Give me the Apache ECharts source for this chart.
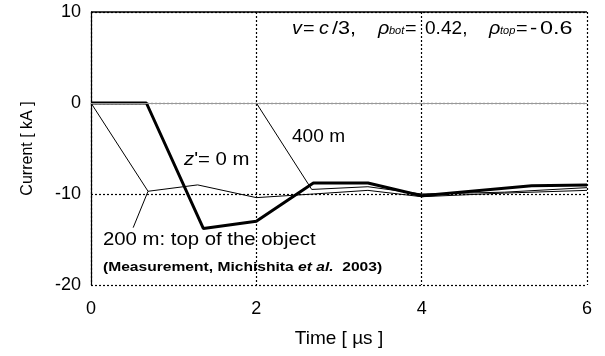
<!DOCTYPE html>
<html>
<head>
<meta charset="utf-8">
<script src="https://cdn.jsdelivr.net/npm/echarts@6/dist/echarts.min.js"></script>
<style>
  html, body { margin: 0; padding: 0; background: #fff; }
  #chart { width: 605px; height: 356px; }
</style>
</head>
<body>
<div id="chart"></div>
<script>
// Time axis ticks [µs] and current axis ticks [kA]
var timeTicks = [0, 2, 4, 6];
var currentTicks = [-20, -10, 0, 10];

// Current waveforms: [time µs, current kA]
var z0m = [[0, 0], [0.67, 0], [1.36, -13.8], [2.0, -13.0], [2.69, -8.8], [3.35, -8.8], [4.0, -10.2], [5.33, -9.1], [6.0, -9.0]];
var z200m = [[0, 0], [0.69, -9.7], [1.29, -9.0], [2.0, -10.4], [2.69, -10.0], [3.35, -9.6], [4.0, -10.3], [5.0, -9.9], [6.0, -9.6]];
var z400m = [[2.0, 0], [2.67, -9.5], [3.35, -9.2], [4.0, -10.0], [5.0, -9.8], [6.0, -9.3]];

// Pointer from the 200 m label to its curve
var pointer200 = [[0.51, -13.7], [0.69, -9.7]];

var FONT = '"Liberation Sans", Arial, sans-serif';

// Small helper for a piece of annotation text, vertically centred on y
function txt(x, y, text, size, opts) {
  opts = opts || {};
  return {
    type: 'text', x: x, y: y, z: 10, scaleX: opts.scaleX || 1,
    style: {
      text: text,
      font: (opts.italic ? 'italic ' : '') + (opts.bold ? 'bold ' : '') + size + 'px ' + FONT,
      fill: '#000',
      verticalAlign: 'middle',
      rich: opts.rich
    }
  };
}

var chart = echarts.init(document.getElementById('chart'));

chart.setOption({
  animation: false,
  grid: { left: 91, right: 18, top: 12, bottom: 71 },
  xAxis: {
    type: 'value',
    min: timeTicks[0],
    max: timeTicks[timeTicks.length - 1],
    interval: 2,
    name: 'Time [ \u00b5s ]',
    nameLocation: 'middle',
    nameGap: 44,
    nameTextStyle: { fontFamily: FONT, fontSize: 19, color: '#000' },
    axisLine: { show: false },
    axisTick: { show: false },
    axisLabel: { fontFamily: FONT, fontSize: 18, color: '#000', margin: 15 },
    splitLine: { show: true, lineStyle: { color: '#000', type: [2, 2], width: 1.2 } }
  },
  yAxis: {
    type: 'value',
    min: currentTicks[0],
    max: currentTicks[currentTicks.length - 1],
    interval: 10,
    name: 'Current [ kA ]',
    nameLocation: 'middle',
    nameGap: 55,
    nameRotate: 90,
    nameTextStyle: { fontFamily: FONT, fontSize: 16, color: '#000' },
    axisLine: { show: true, onZero: false, lineStyle: { color: '#000', width: 1.2 } },
    axisTick: { show: false },
    axisLabel: { fontFamily: FONT, fontSize: 18, color: '#000', margin: 10 },
    splitLine: { show: true, lineStyle: { color: '#000', type: [2, 2], width: 1.2 } }
  },
  series: [
    {
      name: '400 m',
      type: 'line',
      data: z400m,
      symbol: 'none',
      lineStyle: { color: '#000', width: 1 },
      z: 3
    },
    {
      name: '200 m',
      type: 'line',
      data: z200m,
      symbol: 'none',
      lineStyle: { color: '#000', width: 1 },
      z: 3,
      markLine: {
        silent: true,
        symbol: 'none',
        label: { show: false },
        data: [
          [{ coord: [timeTicks[0], 0], lineStyle: { color: '#999', width: 1.2, type: 'solid' } },
           { coord: [timeTicks[timeTicks.length - 1], 0] }],
          [{ coord: [timeTicks[0], currentTicks[currentTicks.length - 1]], lineStyle: { color: '#000', width: 1.5, type: 'solid' } },
           { coord: [timeTicks[timeTicks.length - 1], currentTicks[currentTicks.length - 1]] }],
          [{ coord: pointer200[0], lineStyle: { color: '#000', width: 1, type: 'solid' } },
           { coord: pointer200[1] }]
        ]
      }
    },
    {
      name: "z'= 0 m",
      type: 'line',
      data: z0m,
      symbol: 'none',
      lineStyle: { color: '#000', width: 3 },
      z: 4
    }
  ],
  graphic: [
    // v = c/3, rho_bot = 0.42, rho_top = -0.6
    txt(292, 29, 'v', 18, { italic: true, scaleX: 1.1 }),
    txt(303, 29, '=', 18, { scaleX: 1.1 }),
    txt(319, 29, 'c', 18, { italic: true, scaleX: 1.1 }),
    txt(332, 29, '/3,', 18, { scaleX: 1.2 }),
    txt(378, 29, '\u03c1', 18, { italic: true, scaleX: 1.1 }),
    txt(389, 31, 'bot', 11, { italic: true }),
    txt(405, 29, '=', 18, { scaleX: 1.1 }),
    txt(425, 29, '0.42,', 18, { scaleX: 1.06 }),
    txt(489, 29, '\u03c1', 18, { italic: true, scaleX: 1.1 }),
    txt(500, 31, 'top', 11, { italic: true }),
    txt(516, 29, '=', 18, { scaleX: 1.1 }),
    txt(530, 29, '-', 18, { scaleX: 1.2 }),
    txt(540, 29, '0.6', 18, { scaleX: 1.3 }),
    // curve labels
    txt(184, 160, "{i|z}{n|'= 0 m}", 18, {
      scaleX: 1.13,
      rich: {
        i: { fontFamily: FONT, fontSize: 18, fontStyle: 'italic', fill: '#000' },
        n: { fontFamily: FONT, fontSize: 18, fill: '#000' }
      }
    }),
    txt(292, 137, '400 m', 18, { scaleX: 1.06 }),
    txt(103, 240, '200 m: top of the object', 18, { scaleX: 1.13 }),
    txt(103, 267, '{n|(Measurement, Michishita }{i|et al.}{n|  2003)}', 13, {
      scaleX: 1.2,
      rich: {
        i: { fontFamily: FONT, fontSize: 13, fontStyle: 'italic', fontWeight: 'bold', fill: '#000' },
        n: { fontFamily: FONT, fontSize: 13, fontWeight: 'bold', fill: '#000' }
      }
    })
  ]
});
</script>
</body>
</html>
